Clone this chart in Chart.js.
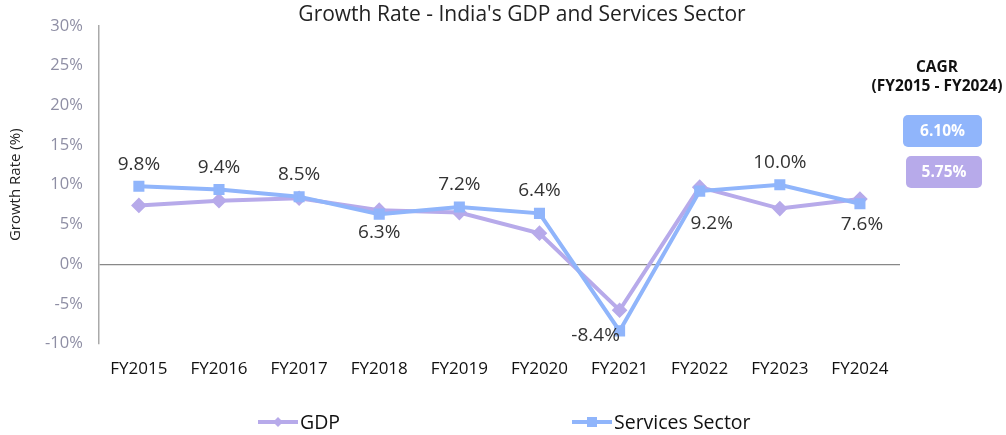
<!DOCTYPE html>
<html>
<head>
<meta charset="utf-8">
<script src="https://cdn.jsdelivr.net/npm/chart.js@4.4.0/dist/chart.umd.min.js"></script>
<style>
  html, body { margin: 0; padding: 0; background: #fff; }
  #wrap { width: 1006px; height: 435px; position: relative; }
</style>
</head>
<body>
<div id="wrap"><canvas id="growthChart"></canvas></div>
<script>
// Fiscal years on the x axis
const years = ["FY2015", "FY2016", "FY2017", "FY2018", "FY2019", "FY2020", "FY2021", "FY2022", "FY2023", "FY2024"];
// Growth rates (%)
const gdpGrowth = [7.4, 8.0, 8.3, 6.8, 6.5, 3.9, -5.8, 9.7, 7.0, 8.2];
const servicesGrowth = [9.8, 9.4, 8.5, 6.3, 7.2, 6.4, -8.4, 9.2, 10.0, 7.6];
// label nudges (px) for the services labels, relative to each point
const labelShift = [[0, -22], [0, -22], [0, -22], [0, 18], [0, -22], [0, -23], [-24, 5], [12, 32], [0, -22], [2, 21]];
// CAGR boxes
const cagrLabels = ["6.10%", "5.75%"];

const gdpColor = '#b7aaea';
const servColor = '#90b5fb';

// title, data labels, CAGR panel and legend
const extrasPlugin = {
    id: 'extras',
    afterDraw(chart) {
        const ctx = chart.ctx;
        ctx.save();

        ctx.fillStyle = '#222';
        ctx.font = '21px "Open Sans", sans-serif';
        ctx.textAlign = 'center';
        ctx.textBaseline = 'middle';
        ctx.fillText("Growth Rate - India's GDP and Services Sector", 522, 15);

        // labels for services series
        const meta = chart.getDatasetMeta(0);
        ctx.font = '19px "Open Sans", sans-serif';
        ctx.fillStyle = '#333';
        meta.data.forEach((pt, i) => {
            const [dx, dy] = labelShift[i];
            ctx.fillText(servicesGrowth[i].toFixed(1) + '%', pt.x + dx, pt.y + dy);
        });

        // CAGR panel
        ctx.fillStyle = '#111';
        ctx.font = 'bold 15.5px "Open Sans", sans-serif';
        ctx.fillText('CAGR', 937, 68);
        ctx.fillText('(FY2015 - FY2024)', 937, 87);

        const boxes = [
            { x: 903, y: 115, w: 79, h: 32, c: servColor },
            { x: 906, y: 156, w: 76, h: 32, c: gdpColor }
        ];
        boxes.forEach((b, i) => {
            ctx.fillStyle = b.c;
            ctx.beginPath();
            ctx.roundRect(b.x, b.y, b.w, b.h, 5);
            ctx.fill();
            ctx.fillStyle = '#fff';
            ctx.font = 'bold 15.5px "Open Sans", sans-serif';
            ctx.fillText(cagrLabels[i], b.x + b.w / 2, b.y + b.h / 2 + 1);
        });

        // legend
        const items = [
            { x: 258, label: 'GDP', c: gdpColor, style: 'diamond' },
            { x: 572, label: 'Services Sector', c: servColor, style: 'square' }
        ];
        const ly = 422;
        items.forEach(it => {
            ctx.strokeStyle = it.c;
            ctx.lineWidth = 4;
            ctx.beginPath();
            ctx.moveTo(it.x, ly);
            ctx.lineTo(it.x + 40, ly);
            ctx.stroke();
            ctx.fillStyle = it.c;
            const cx = it.x + 20;
            if (it.style === 'diamond') {
                ctx.beginPath();
                ctx.moveTo(cx, ly - 5);
                ctx.lineTo(cx + 5, ly);
                ctx.lineTo(cx, ly + 5);
                ctx.lineTo(cx - 5, ly);
                ctx.closePath();
                ctx.fill();
            } else {
                ctx.fillRect(cx - 5, ly - 5, 10, 10);
            }
            ctx.fillStyle = '#111';
            ctx.textAlign = 'left';
            ctx.font = '19.5px "Open Sans", sans-serif';
            ctx.fillText(it.label, it.x + 42, ly + 1);
        });

        ctx.restore();
    }
};

function drawChart() {
    const ctx = document.getElementById('growthChart').getContext('2d');
    new Chart(ctx, {
        type: 'line',
        data: {
            labels: years,
            datasets: [{
                label: 'Services Sector',
                data: servicesGrowth,
                borderColor: servColor,
                backgroundColor: servColor,
                borderWidth: 4,
                pointStyle: 'rect',
                pointRadius: 5,
                pointHoverRadius: 5,
                tension: 0
            }, {
                label: 'GDP',
                data: gdpGrowth,
                borderColor: gdpColor,
                backgroundColor: gdpColor,
                borderWidth: 4,
                pointStyle: 'rectRot',
                pointRadius: 5,
                pointHoverRadius: 5,
                tension: 0
            }]
        },
        options: {
            responsive: true,
            maintainAspectRatio: false,
            animation: false,
            layout: { padding: { top: 10, right: 106, bottom: 41, left: 7 } },
            plugins: {
                legend: { display: false },
                tooltip: { enabled: false }
            },
            scales: {
                x: {
                    offset: true,
                    grid: { display: false, drawTicks: false },
                    border: { display: false },
                    ticks: {
                        color: '#111',
                        font: { family: 'Open Sans', size: 17 },
                        padding: 15,
                        maxRotation: 0
                    }
                },
                y: {
                    min: -10,
                    max: 30,
                    grid: {
                        drawTicks: false,
                        color: ctx => ctx.tick.value === 0 ? '#888' : 'rgba(0,0,0,0)',
                        lineWidth: 1.2
                    },
                    border: { display: true, color: '#aaa', width: 1.5 },
                    ticks: {
                        stepSize: 5,
                        color: '#8e8ea4',
                        font: { family: 'Open Sans', size: 16.5 },
                        padding: 16,
                        callback: v => v + '%'
                    },
                    title: {
                        display: true,
                        text: 'Growth Rate (%)',
                        color: '#222',
                        font: { family: 'Open Sans', size: 15 },
                        padding: { top: 0, bottom: 4 }
                    }
                }
            }
        },
        plugins: [extrasPlugin]
    });
}

window.onload = drawChart;
</script>
</body>
</html>
